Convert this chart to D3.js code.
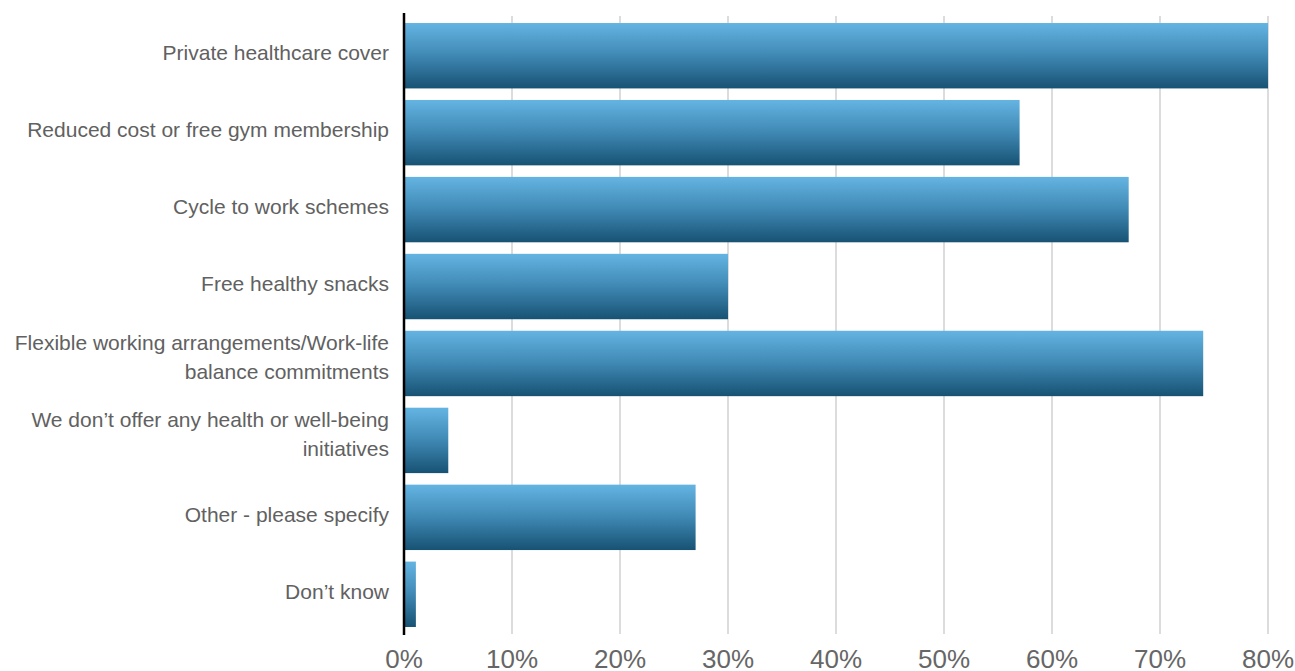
<!DOCTYPE html>
<meta charset="utf-8" />
<style>
  body { margin: 0; background: #fff; }
  .grid line { stroke: #d0d0d0; stroke-width: 1.5px; }
  .cat text { font-family: "Liberation Sans", Arial, sans-serif; font-size: 21px; fill: #616161; }
  .ticks text { font-family: "Liberation Sans", Arial, sans-serif; font-size: 26px; fill: #666; }
</style>
<svg width="1295" height="671"></svg>
<script src="https://cdn.jsdelivr.net/npm/d3@7"></script>
<script>
  var categories = [
    ["Private healthcare cover"],
    ["Reduced cost or free gym membership"],
    ["Cycle to work schemes"],
    ["Free healthy snacks"],
    ["Flexible working arrangements/Work-life", "balance commitments"],
    ["We don\u2019t offer any health or well-being", "initiatives"],
    ["Other - please specify"],
    ["Don\u2019t know"]
  ];
  var values = [80, 57, 67.1, 30, 74, 4.1, 27, 1.1];
  var tickValues = [0, 10, 20, 30, 40, 50, 60, 70, 80];

  var svg = d3.select("svg");

  var x = d3.scaleLinear().domain([0, 80]).range([404, 1268]);
  var y = d3.scaleBand()
    .domain(d3.range(categories.length))
    .range([17.25, 632.75])
    .paddingInner(0.15)
    .paddingOuter(0.075);

  var defs = svg.append("defs");
  var grad = defs.append("linearGradient")
    .attr("id", "barGrad")
    .attr("x1", 0).attr("y1", 0).attr("x2", 0).attr("y2", 1);
  grad.append("stop").attr("offset", "0%").attr("stop-color", "#64b4e2");
  grad.append("stop").attr("offset", "50%").attr("stop-color", "#3f88b4");
  grad.append("stop").attr("offset", "100%").attr("stop-color", "#175273");

  // gridlines
  svg.append("g")
    .attr("class", "grid")
    .selectAll("line")
    .data(tickValues.slice(1))
    .enter()
    .append("line")
    .attr("x1", function (d) { return x(d); })
    .attr("x2", function (d) { return x(d); })
    .attr("y1", 16)
    .attr("y2", 634);

  // bars
  svg.append("g")
    .selectAll("rect")
    .data(values)
    .enter()
    .append("rect")
    .attr("x", x(0) + 1)
    .attr("y", function (d, i) { return y(i); })
    .attr("width", function (d) { return x(d) - x(0) - 1; })
    .attr("height", y.bandwidth())
    .attr("fill", "url(#barGrad)");

  // axis line
  svg.append("line")
    .attr("x1", x(0)).attr("x2", x(0))
    .attr("y1", 13).attr("y2", 635)
    .attr("stroke", "#000")
    .attr("stroke-width", 2.5);

  // category labels
  var cat = svg.append("g").attr("class", "cat");
  var lh = 29;
  categories.forEach(function (lines, i) {
    var cy = y(i) + y.bandwidth() / 2;
    var t = cat.append("text")
      .attr("text-anchor", "end")
      .attr("y", cy - (lines.length - 1) * lh / 2 - (lines.length > 1 ? 4 : 1));
    lines.forEach(function (l, j) {
      t.append("tspan")
        .attr("x", 389)
        .attr("dy", j === 0 ? "0.25em" : lh)
        .text(l);
    });
  });

  // tick labels
  svg.append("g")
    .attr("class", "ticks")
    .selectAll("text")
    .data(tickValues)
    .enter()
    .append("text")
    .attr("x", function (d) { return x(d); })
    .attr("y", 668)
    .attr("text-anchor", "middle")
    .text(function (d) { return d + "%"; });
</script>
